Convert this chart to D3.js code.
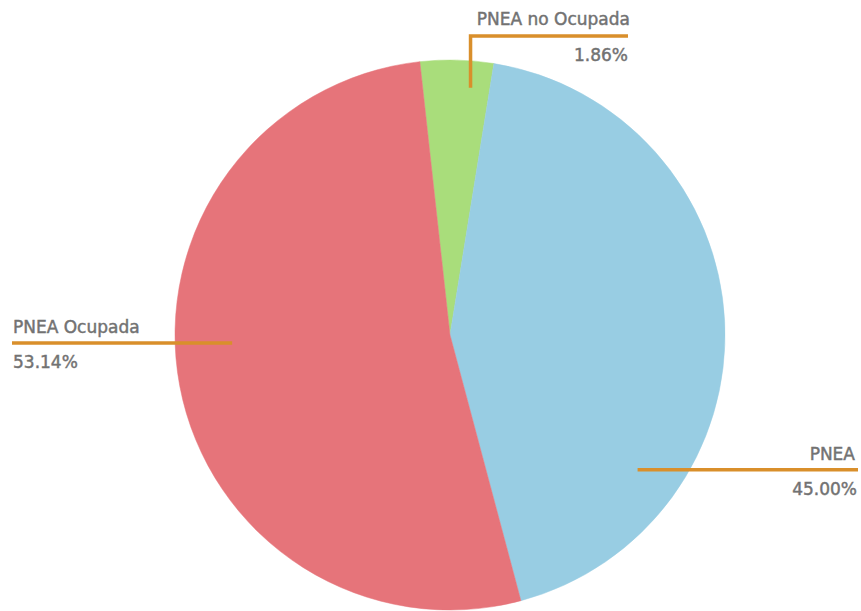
<!DOCTYPE html>
<html><head><meta charset="utf-8">
<script src="https://cdn.jsdelivr.net/npm/d3@7"></script>
<style>
html,body{margin:0;padding:0;background:#fff;}
svg{display:block;}
text{font-family:"DejaVu Sans",sans-serif;font-size:17px;fill:#727272;stroke:#727272;stroke-width:0.45px;}
</style></head>
<body>
<svg id="chart" width="861" height="611"></svg>
<script>
// Data
const categories = ["PNEA no Ocupada", "PNEA", "PNEA Ocupada"];
// NOTE: the reference's slice geometry does not match its printed percentages
// (the green slice is drawn at about 4.3%, not 1.86%). Slice sizes below were
// measured from the drawn angles so the picture matches; the labels keep the
// printed texts unchanged.
const sliceValues = [4.3, 43.3, 52.4];               // measured slice sizes (%)
const percentLabels = ["1.86%", "45.00%", "53.14%"]; // printed label texts
const colors = ["#a9dd7b", "#98cde3", "#e6747a"];

// Layout
const W = 861, H = 611;
const cx = 450, cy = 335, R = 275;
const startDeg = -6.3;
const labelLayout = [
  {ang: 4.75, r: 248, type: "top", lineY: 36, endX: 628},
  {ang: 125.7, r: 231, type: "right", endX: 858},
  {ang: 267.9, r: 218, type: "left", endX: 12}
];

const svg = d3.select("#chart");
const g = svg.append("g").attr("transform", `translate(${cx},${cy})`);

const pie = d3.pie().sort(null).value(d => d)
  .startAngle(startDeg * Math.PI / 180)
  .endAngle(startDeg * Math.PI / 180 + 2 * Math.PI);
const arc = d3.arc().innerRadius(0).outerRadius(R);

g.selectAll("path.slice").data(pie(sliceValues)).enter().append("path")
  .attr("class", "slice")
  .attr("d", arc)
  .attr("fill", (d, i) => colors[i])
  .attr("stroke", (d, i) => colors[i])
  .attr("stroke-width", 0.5);

const lineColor = "#d98f2b";
const labels = svg.append("g");
labelLayout.forEach((L, i) => {
  const a = L.ang * Math.PI / 180;
  const ax = cx + L.r * Math.sin(a), ay = cy - L.r * Math.cos(a);
  if (L.type === "top") {
    labels.append("path")
      .attr("d", `M${ax},${ay}V${L.lineY}H${L.endX}`)
      .attr("fill", "none").attr("stroke", lineColor).attr("stroke-width", 3.5);
    labels.append("text").attr("x", L.endX + 2).attr("y", L.lineY - 11)
      .attr("text-anchor", "end").text(categories[i]);
    labels.append("text").attr("x", L.endX).attr("y", L.lineY + 25)
      .attr("text-anchor", "end").text(percentLabels[i]);
  } else {
    labels.append("line")
      .attr("x1", ax).attr("y1", ay).attr("x2", L.endX).attr("y2", ay)
      .attr("stroke", lineColor).attr("stroke-width", 3.5);
    const anchor = L.type === "right" ? "end" : "start";
    const tx = L.type === "right" ? L.endX - 3 : L.endX + 1;
    labels.append("text").attr("x", tx).attr("y", ay - 10)
      .attr("text-anchor", anchor).text(categories[i]);
    labels.append("text").attr("x", L.type === "right" ? L.endX - 1 : L.endX + 1).attr("y", ay + 25)
      .attr("text-anchor", anchor).text(percentLabels[i]);
  }
});
</script>
</body></html>
